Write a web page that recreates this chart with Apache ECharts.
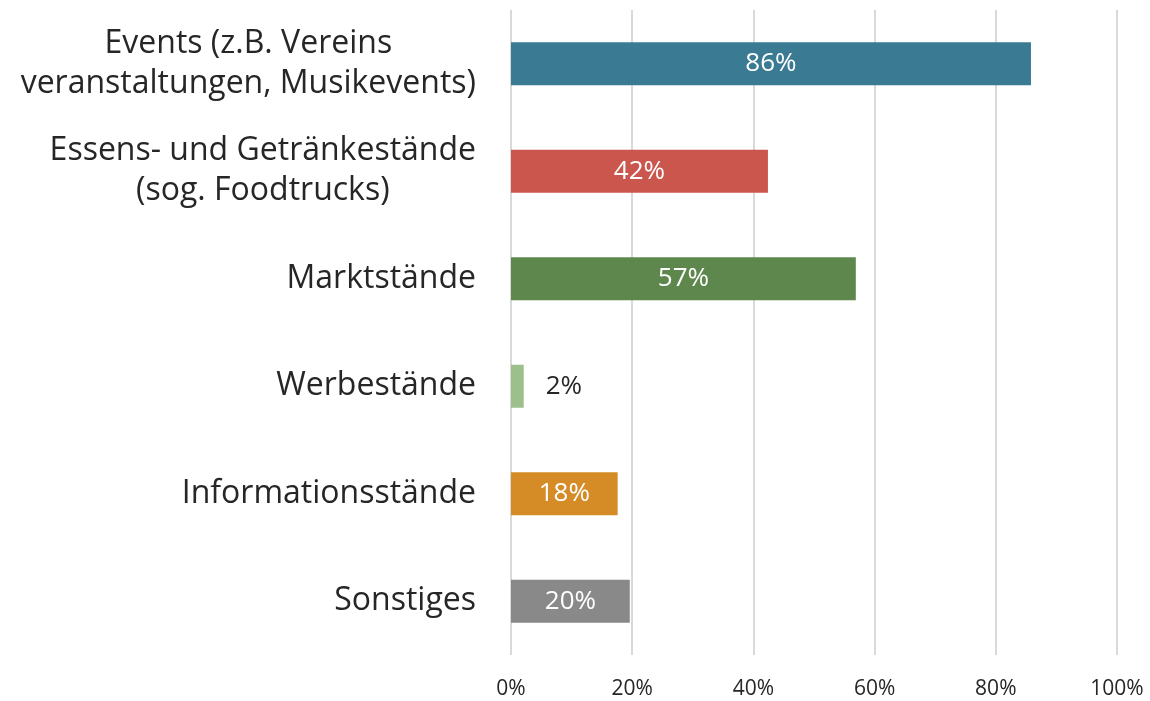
<!DOCTYPE html>
<html>
<head>
<meta charset="utf-8">
<script src="https://cdn.jsdelivr.net/npm/echarts@6/dist/echarts.min.js"></script>
<style>
  html, body { margin: 0; padding: 0; background: #fff; }
  #chart { width: 1150px; height: 701px; }
</style>
</head>
<body>
<div id="chart"></div>
<script>
// Kategorien (von oben nach unten)
const categories = [
  'Events (z.B. Vereins\nveranstaltungen, Musikevents)',
  'Essens- und Getränkestände\n(sog. Foodtrucks)',
  'Marktstände',
  'Werbestände',
  'Informationsstände',
  'Sonstiges'
];
// Balkenlängen, Beschriftung gerundet
const values = [85.8, 42.4, 56.9, 2.1, 17.6, 19.6];
const barColors = ['#3a7a93', '#cb564d', '#5e874e', '#9dbf8c', '#d68c26', '#898989'];
const tickLabels = ['0%', '20%', '40%', '60%', '80%', '100%'];

const font = '"Open Sans", sans-serif';

const chart = echarts.init(document.getElementById('chart'));

// mehrzeilige Labels: Zeilen zentriert, Block rechtsbündig
function catLabel(v) {
  const lines = v.split('\n');
  if (lines.length === 1) return v;
  return lines.map(l => '{c|' + l + '}').join('\n');
}

const option = {
  animation: false,
  grid: { left: 511, right: 33, top: 10, bottom: 46, containLabel: false },
  xAxis: {
    type: 'value',
    min: 0,
    max: 100,
    interval: 20,
    axisLine: { show: false },
    axisTick: { show: false },
    splitLine: { lineStyle: { color: '#d9d9d9', width: 2 } },
    axisLabel: {
      margin: 24,
      color: '#262626',
      fontSize: 21,
      fontFamily: font,
      formatter: (v) => tickLabels[v / 20]
    }
  },
  yAxis: {
    type: 'category',
    inverse: true,
    data: categories,
    axisLine: { show: false },
    axisTick: { show: false },
    axisLabel: {
      margin: 35,
      color: '#262626',
      fontSize: 32,
      fontFamily: font,
      lineHeight: 40,
      formatter: catLabel,
      rich: {
        c: { align: 'center', fontSize: 32, lineHeight: 40, fontFamily: font, color: '#262626' }
      }
    }
  },
  series: [{
    type: 'bar',
    barWidth: 43,
    data: values.map((v, i) => ({
      value: v,
      itemStyle: { color: barColors[i] },
      label: v < 5
        ? { position: 'right', distance: 22, color: '#262626' }
        : { position: 'inside', color: '#fff' }
    })),
    label: {
      show: true,
      fontSize: 26,
      fontFamily: font,
      formatter: (p) => Math.round(p.value) + '%'
    }
  }]
};

chart.setOption(option);
</script>
</body>
</html>
